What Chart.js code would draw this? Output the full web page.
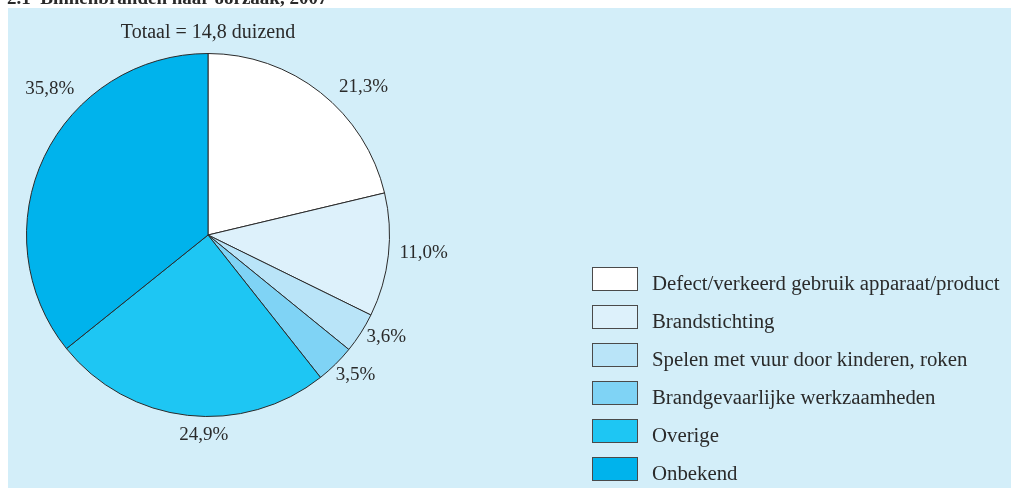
<!DOCTYPE html>
<html>
<head>
<meta charset="utf-8">
<script src="https://cdn.jsdelivr.net/npm/chart.js@4"></script>
<style>
  html, body { margin: 0; padding: 0; background: #ffffff; }
  #wrap { width: 1011px; height: 488px; position: relative; }
</style>
</head>
<body>
<div id="wrap"><canvas id="c" width="1011" height="488"></canvas></div>
<script>
// ---- data ----
const categories = [
  "Defect/verkeerd gebruik apparaat/product",
  "Brandstichting",
  "Spelen met vuur door kinderen, roken",
  "Brandgevaarlijke werkzaamheden",
  "Overige",
  "Onbekend"
];
const shares = [21.3, 11.0, 3.6, 3.5, 24.9, 35.8];
const shareLabels = ["21,3%", "11,0%", "3,6%", "3,5%", "24,9%", "35,8%"];
const titleText = "2.1  Binnenbranden naar oorzaak, 2007";
const subtitleText = "Totaal = 14,8 duizend";

// ---- styles ----
const sliceColors = ["#ffffff", "#ddf1fb", "#b9e4f8", "#7fd3f5", "#1ec6f3", "#00b3ec"];
const panelColor = "#d3eef9";
const textColor = "#2a2a2a";
const serif = "'Liberation Serif', 'DejaVu Serif', serif";
// label placement relative to each slice: extra radius (px) and angular tweak (deg)
const labelExtra = [33, 35, 24, 22, 19, 34];
const labelTurn = [8.2, -1.5, -2.8, -1.9, -5.3, 17.1];

const decorPlugin = {
  id: 'decor',
  beforeDraw(chart) {
    const ctx = chart.ctx;
    ctx.save();
    ctx.fillStyle = panelColor;
    ctx.fillRect(8, 8, chart.width - 8, chart.height - 8);
    ctx.fillStyle = textColor;
    ctx.font = "bold 19px " + serif;
    ctx.textAlign = 'left';
    ctx.textBaseline = 'alphabetic';
    ctx.fillText(titleText, 7, 4);
    ctx.font = "20px " + serif;
    ctx.textAlign = 'center';
    ctx.fillText(subtitleText, 208, 38);
    ctx.restore();
  },
  afterDraw(chart) {
    const ctx = chart.ctx;
    const meta = chart.getDatasetMeta(0);
    ctx.save();
    ctx.fillStyle = textColor;
    ctx.font = "19px " + serif;
    ctx.textAlign = 'center';
    ctx.textBaseline = 'middle';
    meta.data.forEach((arc, i) => {
      const p = arc.getProps(['x', 'y', 'startAngle', 'endAngle', 'outerRadius'], true);
      const mid = (p.startAngle + p.endAngle) / 2 + labelTurn[i] * Math.PI / 180;
      const r = p.outerRadius + labelExtra[i];
      ctx.fillText(shareLabels[i], p.x + Math.cos(mid) * r, p.y + Math.sin(mid) * r);
    });
    // legend
    const bx = 592, by = 267, bw = 45, bh = 23, step = 38;
    ctx.textAlign = 'left';
    ctx.textBaseline = 'alphabetic';
    ctx.font = "20.8px " + serif;
    categories.forEach((name, i) => {
      const y = by + i * step;
      ctx.fillStyle = sliceColors[i];
      ctx.fillRect(bx, y, bw, bh);
      ctx.strokeStyle = '#4a4a4a';
      ctx.lineWidth = 1;
      ctx.strokeRect(bx + 0.5, y + 0.5, bw, bh);
      ctx.fillStyle = textColor;
      ctx.fillText(name, 652, y + 23);
    });
    ctx.restore();
  }
};

new Chart(document.getElementById('c'), {
  type: 'pie',
  data: {
    labels: categories,
    datasets: [{
      data: shares,
      backgroundColor: sliceColors,
      borderColor: '#2b2b2b',
      borderWidth: 1
    }]
  },
  options: {
    responsive: false,
    animation: false,
    events: [],
    layout: { padding: { left: 26, top: 53, right: 621, bottom: 71 } },
    plugins: { legend: { display: false }, tooltip: { enabled: false }, title: { display: false } }
  },
  plugins: [decorPlugin]
});
</script>
</body>
</html>
